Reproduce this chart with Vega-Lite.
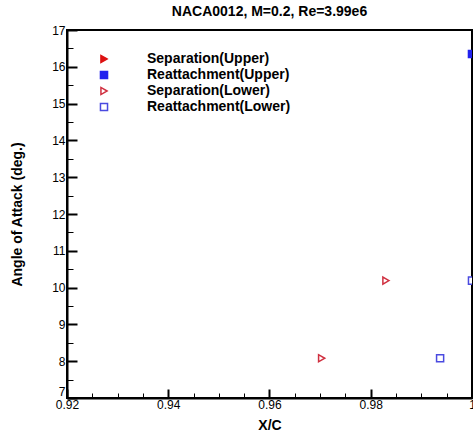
{
  "$schema": "https://vega.github.io/schema/vega-lite/v6.json",
  "autosize": "none",
  "width": 405,
  "height": 368,
  "padding": {"left": 67, "top": 30, "right": 1, "bottom": 35},
  "background": "white",
  "config": {
    "font": "Liberation Sans",
    "view": {"stroke": "black", "strokeWidth": 2}
  },
  "title": {
    "text": "NACA0012, M=0.2, Re=3.99e6",
    "font": "Liberation Sans",
    "fontSize": 14,
    "fontWeight": "bold",
    "color": "black",
    "offset": 5
  },
  "data": {
    "values": [
      {"series": "Reattachment(Upper)", "xc": 1.0, "aoa": 16.35},
      {"series": "Separation(Lower)", "xc": 0.9703, "aoa": 8.08},
      {"series": "Separation(Lower)", "xc": 0.983, "aoa": 10.19},
      {"series": "Reattachment(Lower)", "xc": 0.9937, "aoa": 8.08},
      {"series": "Reattachment(Lower)", "xc": 1.0, "aoa": 10.19}
    ]
  },
  "mark": {"type": "point", "clip": true, "strokeWidth": 1.5, "opacity": 1, "size": 50},
  "encoding": {
    "x": {
      "field": "xc",
      "type": "quantitative",
      "title": "X/C",
      "scale": {"domain": [0.92, 1.0], "zero": false, "nice": false},
      "axis": {
        "values": [0.92, 0.925, 0.93, 0.935, 0.94, 0.945, 0.95, 0.955, 0.96, 0.965, 0.97, 0.975, 0.98, 0.985, 0.99, 0.995, 1.0],
        "labelExpr": "abs(datum.value*50 - round(datum.value*50)) < 1e-6 ? format(datum.value, '.2~f') : ''",
        "tickSize": {"condition": {"test": "abs(datum.value*50 - round(datum.value*50)) < 1e-6", "value": -9}, "value": -5},
        "tickWidth": {"condition": {"test": "abs(datum.value*50 - round(datum.value*50)) < 1e-6", "value": 2}, "value": 1},
        "tickColor": "black",
        "domainColor": "black",
        "domainWidth": 2,
        "grid": false,
        "labelFont": "Liberation Sans",
        "labelFontSize": 12,
        "labelColor": "black",
        "labelPadding": 10,
        "labelFlush": false,
        "labelOverlap": false,
        "titleFont": "Liberation Sans",
        "titleFontSize": 14,
        "titleFontWeight": "bold",
        "titleColor": "black",
        "titlePadding": 4
      }
    },
    "y": {
      "field": "aoa",
      "type": "quantitative",
      "title": "Angle of Attack (deg.)",
      "scale": {"domain": [7, 17], "zero": false, "nice": false},
      "axis": {
        "values": [7, 7.5, 8, 8.5, 9, 9.5, 10, 10.5, 11, 11.5, 12, 12.5, 13, 13.5, 14, 14.5, 15, 15.5, 16, 16.5, 17],
        "labelExpr": "datum.value % 1 === 0 ? format(datum.value, 'd') : ''",
        "labelBaseline": {"condition": {"test": "datum.value === 7", "value": "bottom"}, "value": "middle"},
        "tickSize": {"condition": {"test": "datum.value % 1 === 0", "value": -10}, "value": -6},
        "tickWidth": {"condition": {"test": "datum.value % 1 === 0", "value": 2}, "value": 1},
        "tickColor": "black",
        "domainColor": "black",
        "domainWidth": 2,
        "grid": false,
        "labelFont": "Liberation Sans",
        "labelFontSize": 12,
        "labelColor": "black",
        "labelPadding": 12,
        "labelFlush": false,
        "labelOverlap": false,
        "titleFont": "Liberation Sans",
        "titleFontSize": 14,
        "titleFontWeight": "bold",
        "titleColor": "black",
        "titlePadding": 27
      }
    },
    "shape": {
      "field": "series",
      "type": "nominal",
      "scale": {
        "domain": ["Separation(Upper)", "Reattachment(Upper)", "Separation(Lower)", "Reattachment(Lower)"],
        "range": ["triangle-right", "square", "triangle-right", "square"]
      },
      "legend": {
        "title": null,
        "orient": "none",
        "legendX": 30,
        "legendY": 22,
        "labelFont": "Liberation Sans",
        "labelFontSize": 14,
        "labelFontWeight": "bold",
        "labelColor": "black",
        "labelOffset": 36,
        "rowPadding": 2,
        "symbolSize": 50,
        "symbolStrokeWidth": 1.5
      }
    },
    "fill": {
      "field": "series",
      "type": "nominal",
      "scale": {
        "domain": ["Separation(Upper)", "Reattachment(Upper)", "Separation(Lower)", "Reattachment(Lower)"],
        "range": ["#dd1111", "#2222ee", "white", "white"]
      },
      "legend": null
    },
    "stroke": {
      "field": "series",
      "type": "nominal",
      "scale": {
        "domain": ["Separation(Upper)", "Reattachment(Upper)", "Separation(Lower)", "Reattachment(Lower)"],
        "range": ["#dd1111", "#2222ee", "#d03040", "#4a4ae0"]
      },
      "legend": null
    }
  }
}
